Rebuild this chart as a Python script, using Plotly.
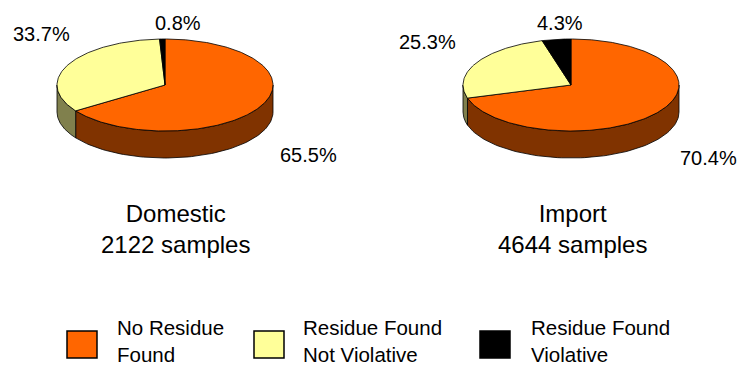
import numpy as np
import plotly.graph_objects as go

# ---- data ----
categories = ["No Residue Found", "Residue Found Not Violative", "Residue Found Violative"]
legend_labels = ["No Residue<br>Found", "Residue Found<br>Not Violative", "Residue Found<br>Violative"]
domestic_pct = [65.5, 33.7, 0.8]
import_pct = [70.4, 25.3, 4.3]
group_titles = ["Domestic<br>2122 samples", "Import<br>4644 samples"]

# ---- styles ----
top_colors = ["#FF6600", "#FFFF99", "#000000"]
side_colors = ["#803300", "#80804D", "#000000"]
FONT = "Liberation Sans, Arial, sans-serif"
W, H = 738, 369

# pie geometry (pixel space: x right, y down)
RX, RY, DEPTH = 108, 46, 27
pies = [
    dict(values=domestic_pct, cx=165, cy=85,
         label_pos=[(308, 155), (41, 34), (178, 23)], title=(175, 229)),
    dict(values=import_pct, cx=571, cy=85,
         label_pos=[(708, 158), (427, 42), (560, 23)], title=(572, 229)),
]

fig = go.Figure()


def pt(cx, cy, th, dy=0.0):
    r = np.radians(th)
    return cx + RX * np.sin(r), cy - RY * np.cos(r) + dy


for pie in pies:
    vals = np.array(pie["values"], dtype=float)
    frac = vals / vals.sum()
    ends = np.cumsum(frac) * 360.0
    starts = ends - frac * 360.0
    cx, cy = pie["cx"], pie["cy"]
    # side walls (front half: clock angles 90..270)
    for i in range(len(vals)):
        lo, hi = max(starts[i], 90.0), min(ends[i], 270.0)
        if hi <= lo:
            continue
        th = np.linspace(lo, hi, 80)
        xt, yt = pt(cx, cy, th)
        xb, yb = pt(cx, cy, th[::-1], DEPTH)
        xs = np.concatenate([xt, xb, xt[:1]])
        ys = np.concatenate([yt, yb, yt[:1]])
        fig.add_trace(go.Scatter(x=xs, y=ys, mode="lines", fill="toself",
                                 fillcolor=side_colors[i],
                                 line=dict(color="black", width=0.8),
                                 hoverinfo="skip", showlegend=False))
    # top faces
    for i in range(len(vals)):
        n = max(int(frac[i] * 400), 4)
        th = np.linspace(starts[i], ends[i], n)
        xa, ya = pt(cx, cy, th)
        xs = np.concatenate([[cx], xa, [cx]])
        ys = np.concatenate([[cy], ya, [cy]])
        fig.add_trace(go.Scatter(x=xs, y=ys, mode="lines", fill="toself",
                                 fillcolor=top_colors[i],
                                 line=dict(color="black", width=0.8),
                                 hoverinfo="skip", showlegend=False,
                                 name=categories[i]))
    # percentage labels
    for v, (lx, ly) in zip(vals, pie["label_pos"]):
        fig.add_annotation(x=lx, y=ly, text=f"{v:.1f}%", showarrow=False,
                           xanchor="center", yanchor="middle",
                           font=dict(family=FONT, size=20, color="black"))

for title, pie in zip(group_titles, pies):
    tx, ty = pie["title"]
    fig.add_annotation(x=tx, y=ty, text=title, showarrow=False,
                       xanchor="center", yanchor="middle",
                       font=dict(family=FONT, size=24, color="black"))

# legend (manual)
legend_box_x = [67, 254, 480]
legend_text_x = [115, 301, 529]
for i in range(3):
    bx = legend_box_x[i]
    fig.add_shape(type="rect", x0=bx, x1=bx + 30, y0=331, y1=358,
                  fillcolor=top_colors[i], line=dict(color="black", width=1.5),
                  xref="x", yref="y")
    fig.add_annotation(x=legend_text_x[i], y=368, text=legend_labels[i],
                       showarrow=False, xanchor="left", yanchor="bottom",
                       align="left",
                       font=dict(family=FONT, size=20.5, color="black"))

fig.update_layout(
    width=W, height=H,
    margin=dict(l=0, r=0, t=0, b=0),
    paper_bgcolor="white", plot_bgcolor="white",
    showlegend=False,
    xaxis=dict(range=[0, W], visible=False, fixedrange=True),
    yaxis=dict(range=[H, 0], visible=False, fixedrange=True),
)

fig.write_html("out.html", config={"displayModeBar": False})
